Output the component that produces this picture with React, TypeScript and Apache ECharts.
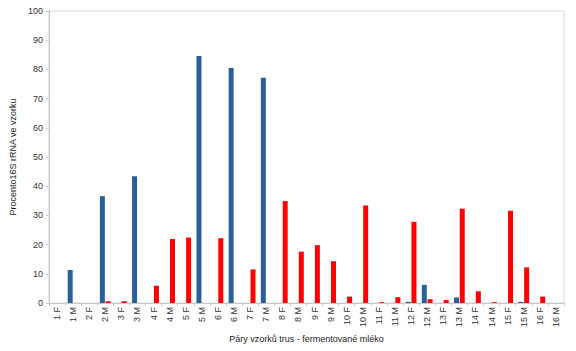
import React, { useEffect, useRef } from "react";
import * as echarts from "echarts";

const categories = [
  "1 F", "1 M", "2 F", "2 M", "3 F", "3 M", "4 F", "4 M",
  "5 F", "5 M", "6 F", "6 M", "7 F", "7 M", "8 F", "8 M",
  "9 F", "9 M", "10 F", "10 M", "11 F", "11 M", "12 F", "12 M",
  "13 F", "13 M", "14 F", "14 M", "15 F", "15 M", "16 F", "16 M",
];

const blueValues = [
  0, 11.3, 0, 36.6, 0, 43.4, 0, 0,
  0, 84.6, 0, 80.5, 0, 77.1, 0, 0,
  0, 0, 0, 0, 0, 0, 0.4, 6.2,
  0, 1.9, 0, 0, 0, 0.4, 0, 0,
];

const redValues = [
  0, 0, 0, 0.6, 0.6, 0, 5.9, 21.9,
  22.4, 0, 22.2, 0, 11.5, 0, 34.9, 17.6,
  19.8, 14.3, 2.2, 33.4, 0.3, 2.0, 27.8, 1.3,
  1.0, 32.3, 4.0, 0.3, 31.6, 12.2, 2.2, 0,
];

const yTicks = { min: 0, max: 100, interval: 10 };

export default function App() {
  const ref = useRef<HTMLDivElement>(null);
  useEffect(() => {
    if (!ref.current) return;
    const chart = echarts.init(ref.current, null, { renderer: "svg" });
    const font = "Liberation Sans";
    chart.setOption({
      animation: false,
      textStyle: { fontFamily: font },
      grid: {
        left: 48, right: 12, top: 11, bottom: 48,
        show: true, borderColor: "#d9d9d9", borderWidth: 1,
      },
      xAxis: {
        type: "category",
        data: categories,
        name: "Páry vzorků trus - fermentované mléko",
        nameLocation: "middle",
        nameGap: 30,
        nameTextStyle: { fontSize: 9, color: "#222", fontFamily: font },
        axisLine: { lineStyle: { color: "#c8c8c8" } },
        axisTick: { show: true, length: 3, lineStyle: { color: "#c8c8c8" } },
        axisLabel: { rotate: 90, fontSize: 9, color: "#333", margin: 4, fontFamily: font, interval: 0 },
      },
      yAxis: {
        type: "value",
        min: yTicks.min,
        max: yTicks.max,
        interval: yTicks.interval,
        name: "Procento16S rRNA ve vzorku",
        nameLocation: "middle",
        nameGap: 31,
        nameTextStyle: { fontSize: 9, color: "#222", fontFamily: font },
        axisLine: { show: true, lineStyle: { color: "#c8c8c8" } },
        axisTick: { show: true, length: 3, lineStyle: { color: "#c8c8c8" } },
        axisLabel: { fontSize: 9, color: "#333", margin: 6, fontFamily: font },
        splitLine: { show: false },
      },
      series: [
        {
          type: "bar",
          data: blueValues,
          barWidth: 5,
          barGap: "15%",
          itemStyle: { color: "#2a6099" },
        },
        {
          type: "bar",
          data: redValues,
          barWidth: 5,
          itemStyle: { color: "#ff0000" },
        },
      ],
    });
    return () => chart.dispose();
  }, []);
  return <div ref={ref} style={{ width: 576, height: 351, position: "absolute", left: 0, top: 0, background: "#fff" }} />;
}
